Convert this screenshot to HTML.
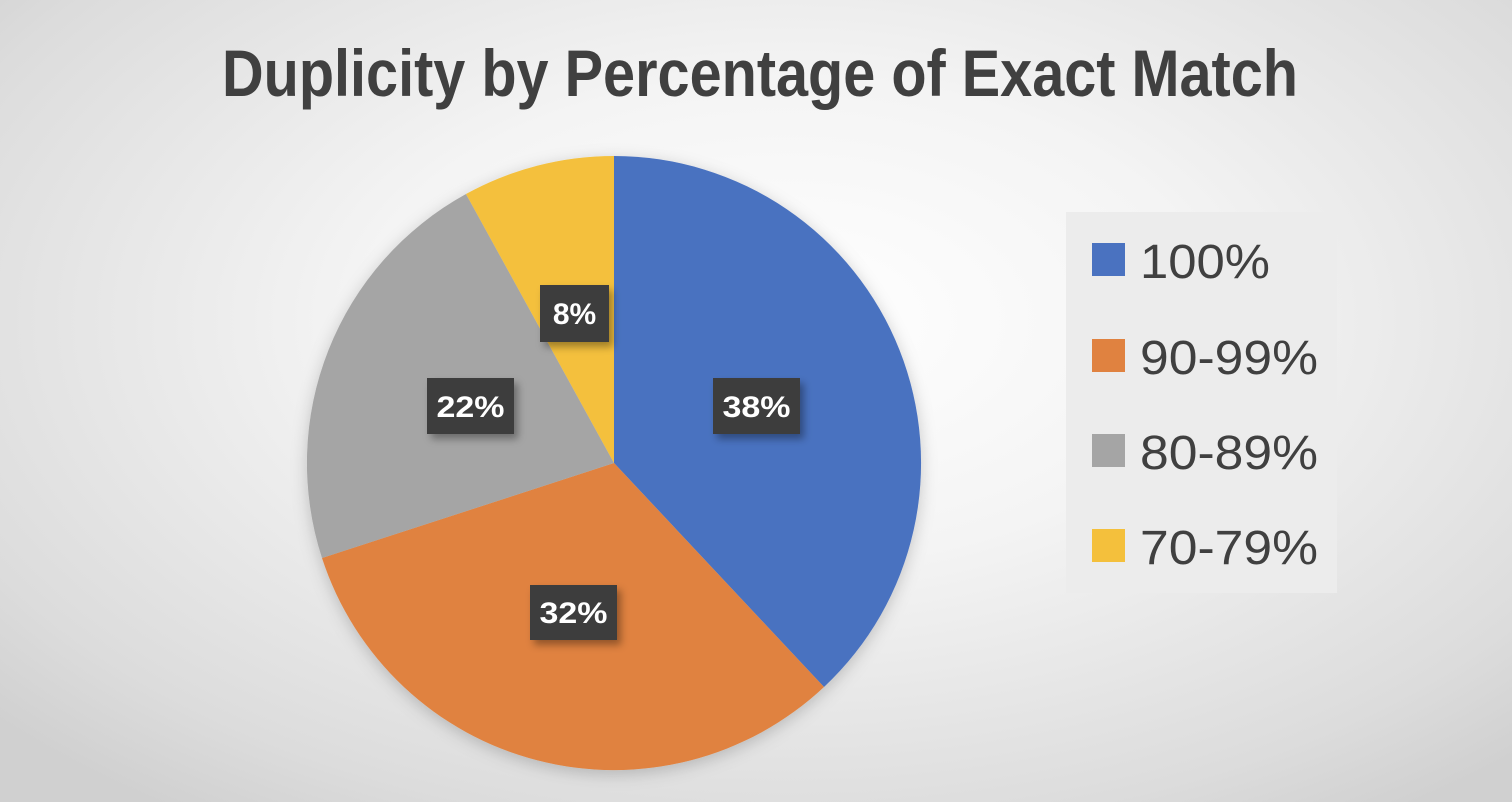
<!DOCTYPE html>
<html><head><meta charset="utf-8"><style>
html,body{margin:0;padding:0;}
body{width:1512px;height:802px;overflow:hidden;background:radial-gradient(ellipse 70% 75% at 52% 40%,#ffffff 0%,#f4f4f4 40%,#dcdcdc 85%,#d0d0d0 100%);font-family:"Liberation Sans",sans-serif;}
</style></head><body>
<svg width="1512" height="802" xmlns="http://www.w3.org/2000/svg" style="position:absolute;left:0;top:0">
<defs>
<filter id="sh" x="-20%" y="-20%" width="150%" height="150%"><feDropShadow dx="4" dy="5" stdDeviation="4" flood-color="#000" flood-opacity="0.35"/></filter>
<filter id="ps" x="-10%" y="-10%" width="120%" height="120%"><feDropShadow dx="0" dy="4" stdDeviation="8" flood-color="#000" flood-opacity="0.2"/></filter>
</defs>
<text x="760" y="96" text-anchor="middle" font-family="Liberation Sans" font-weight="bold" font-size="66" fill="#404040" textLength="1076" lengthAdjust="spacingAndGlyphs">Duplicity by Percentage of Exact Match</text>
<g filter="url(#ps)">
<path d="M614,463 L614,156 A307,307 0 0,1 824,687 Z" fill="#4a72c0"/>
<path d="M614,463 L824,687 A307,307 0 0,1 322,558 Z" fill="#e08240"/>
<path d="M614,463 L322,558 A307,307 0 0,1 466,194 Z" fill="#a5a5a5"/>
<path d="M614,463 L466,194 A307,307 0 0,1 614,156 Z" fill="#f4c03c"/>
</g>
<g font-family="Liberation Sans" font-weight="bold" font-size="30" fill="#fff" text-anchor="middle">
<rect x="540" y="285" width="69" height="57" fill="#3d3d3d" filter="url(#sh)"/><text x="574.5" y="324">8%</text>
<rect x="427" y="378" width="87" height="56" fill="#3d3d3d" filter="url(#sh)"/><text x="470.5" y="417" textLength="68" lengthAdjust="spacingAndGlyphs">22%</text>
<rect x="713" y="378" width="87" height="56" fill="#3d3d3d" filter="url(#sh)"/><text x="756.5" y="417" textLength="68" lengthAdjust="spacingAndGlyphs">38%</text>
<rect x="530" y="585" width="87" height="55" fill="#3d3d3d" filter="url(#sh)"/><text x="573.5" y="623" textLength="68" lengthAdjust="spacingAndGlyphs">32%</text>
</g>
<rect x="1066" y="212" width="271" height="381" fill="#ececec"/>
<g font-family="Liberation Sans" font-size="48" fill="#404040">
<rect x="1092" y="243" width="33" height="33" fill="#4a72c0"/><text x="1140" y="278" textLength="130" lengthAdjust="spacingAndGlyphs">100%</text>
<rect x="1092" y="339" width="33" height="33" fill="#e08240"/><text x="1140" y="374" textLength="178" lengthAdjust="spacingAndGlyphs">90-99%</text>
<rect x="1092" y="434" width="33" height="33" fill="#a5a5a5"/><text x="1140" y="469" textLength="178" lengthAdjust="spacingAndGlyphs">80-89%</text>
<rect x="1092" y="529" width="33" height="33" fill="#f4c03c"/><text x="1140" y="564" textLength="178" lengthAdjust="spacingAndGlyphs">70-79%</text>
</g>
</svg>
</body></html>
